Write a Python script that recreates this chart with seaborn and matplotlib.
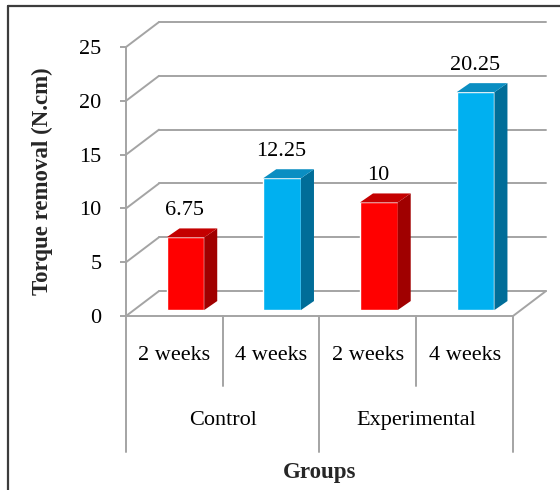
import numpy as np
import pandas as pd
import seaborn as sns
import matplotlib
matplotlib.use("Agg")
import matplotlib.pyplot as plt
from matplotlib.lines import Line2D
from matplotlib.patches import Polygon
from matplotlib.transforms import IdentityTransform, offset_copy, blended_transform_factory

# ---- data ----
groups = ["Control", "Control", "Experimental", "Experimental"]
weeks = ["2 weeks", "4 weeks", "2 weeks", "4 weeks"]
torque = [6.75, 12.25, 10, 20.25]
group_names = ["Control", "Experimental"]
y_ticks = [0, 5, 10, 15, 20, 25]

front_colors = {"2 weeks": "#ff0000", "4 weeks": "#00b0f0"}
side_colors = {"2 weeks": "#a00000", "4 weeks": "#006d98"}
top_colors = {"2 weeks": "#c40000", "4 weeks": "#0a8ec2"}

df = pd.DataFrame({"group": groups, "week": weeks, "torque": torque})
df["bar"] = df["group"] + " " + df["week"]

sns.set_theme(style="white")
plt.rcParams["font.family"] = ["Liberation Serif", "DejaVu Serif"]
plt.rcParams["text.color"] = "black"

FS = 16
GRID = "#a4a4a4"
LW = 1.4
DPI = 100

# pseudo-3D depth offsets in pixels (x right, y up)
WALL = (33, 25)
BAR_FRONT = (11, 6)
BAR_DEPTH = (13, 9)

fig = plt.figure(figsize=(5.6, 4.9), dpi=DPI)
ax = fig.add_axes([0.225, 0.355, 0.691, 0.549])

sns.barplot(data=df, x="bar", y="torque", hue="week", order=list(df["bar"]),
            palette=front_colors, dodge=False, width=0.39, errorbar=None,
            saturation=1, legend=False, ax=ax)

ax.set_xlim(-0.5, len(df) - 0.5)
ax.set_ylim(y_ticks[0], y_ticks[-1])
ax.set_yticks(y_ticks)
ax.set_facecolor("white")
for s in ["top", "right", "bottom"]:
    ax.spines[s].set_visible(False)
ax.spines["left"].set_color(GRID)
ax.spines["left"].set_linewidth(LW)
ax.tick_params(axis="y", left=True, length=4.5, width=LW, color=GRID,
               pad=13, labelsize=FS, labelcolor="black")
ax.tick_params(axis="x", bottom=False, labelbottom=False)
ax.grid(False)


def px(x, y, *shifts):
    """Data point -> display pixels, pushed back by the given depth shifts."""
    p = ax.transData.transform((x, y))
    dx = sum(s[0] for s in shifts)
    dy = sum(s[1] for s in shifts)
    return (p[0] + dx, p[1] + dy)


def seg(p, q, **kw):
    ax.add_line(Line2D([p[0], q[0]], [p[1], q[1]], transform=IdentityTransform(),
                       color=GRID, lw=LW, clip_on=False, **kw))


x_lo, x_hi = -0.5, len(df) - 0.5

# back wall gridlines and side-wall diagonals
for v in y_ticks:
    seg(px(x_lo, v, WALL), px(x_hi, v, WALL), zorder=0.5)
    seg(px(x_lo, v), px(x_lo, v, WALL), zorder=0.5)
# floor edges
seg(px(x_lo, 0), px(x_hi, 0), zorder=0.6)
seg(px(x_hi, 0), px(x_hi, 0, WALL), zorder=0.6)

# extrude the bars into boxes
front_tf = offset_copy(ax.transData, fig=fig, x=BAR_FRONT[0], y=BAR_FRONT[1], units="dots")
for patch in list(ax.patches):
    h = patch.get_height()
    if not np.isfinite(h) or h <= 0:
        continue
    x0, w = patch.get_x(), patch.get_width()
    idx = int(round(x0 + w / 2))
    wk = df["week"].iloc[idx]
    patch.set_transform(front_tf)
    patch.set_clip_on(False)
    patch.set_zorder(2)
    side = [px(x0 + w, 0, BAR_FRONT), px(x0 + w, h, BAR_FRONT),
            px(x0 + w, h, BAR_FRONT, BAR_DEPTH), px(x0 + w, 0, BAR_FRONT, BAR_DEPTH)]
    top = [px(x0, h, BAR_FRONT), px(x0 + w, h, BAR_FRONT),
           px(x0 + w, h, BAR_FRONT, BAR_DEPTH), px(x0, h, BAR_FRONT, BAR_DEPTH)]
    ax.add_patch(Polygon(side, closed=True, transform=IdentityTransform(),
                         facecolor=side_colors[wk], edgecolor="none", clip_on=False, zorder=2))
    ax.add_patch(Polygon(top, closed=True, transform=IdentityTransform(),
                         facecolor=top_colors[wk], edgecolor="none", clip_on=False, zorder=2))

# value labels
for i, v in enumerate(df["torque"]):
    ax.annotate(f"{v:g}", xy=(i, v), xytext=(10, 33), textcoords="offset pixels",
                ha="center", va="center", fontsize=FS, annotation_clip=False)

# category table under the floor
bt = blended_transform_factory(ax.transData, ax.transAxes)
n = len(df)
for k in range(n + 1):
    xb = k - 0.5
    y_end = -0.506 if k % 2 == 0 else -0.26
    ax.add_line(Line2D([xb, xb], [0, y_end], transform=bt, color=GRID, lw=LW, clip_on=False))
for i, wk in enumerate(df["week"]):
    ax.text(i, -0.145, wk, transform=bt, ha="center", va="center", fontsize=FS)
for j, g in enumerate(group_names):
    ax.text(2 * j + 0.5, -0.387, g, transform=bt, ha="center", va="center", fontsize=FS)

ax.set_xlabel("Groups", fontsize=FS + 0.5, fontweight="bold")
ax.xaxis.set_label_coords(0.5, -0.58)
ax.xaxis.label.set_va("center")
ax.set_ylabel("Torque removal (N.cm)", fontsize=FS + 0.5, fontweight="bold")
ax.yaxis.set_label_coords(-0.217, 0.5)
ax.yaxis.label.set_va("center")

# outer frame
fx, fy = 8 / 560, 1 - 6 / 490
fig.add_artist(Line2D([fx, 1], [fy, fy], transform=fig.transFigure, color="#3c3c3c", lw=1.6))
fig.add_artist(Line2D([fx, fx], [0, fy], transform=fig.transFigure, color="#3c3c3c", lw=1.6))

fig.savefig("out.png", dpi=DPI, facecolor="white")
